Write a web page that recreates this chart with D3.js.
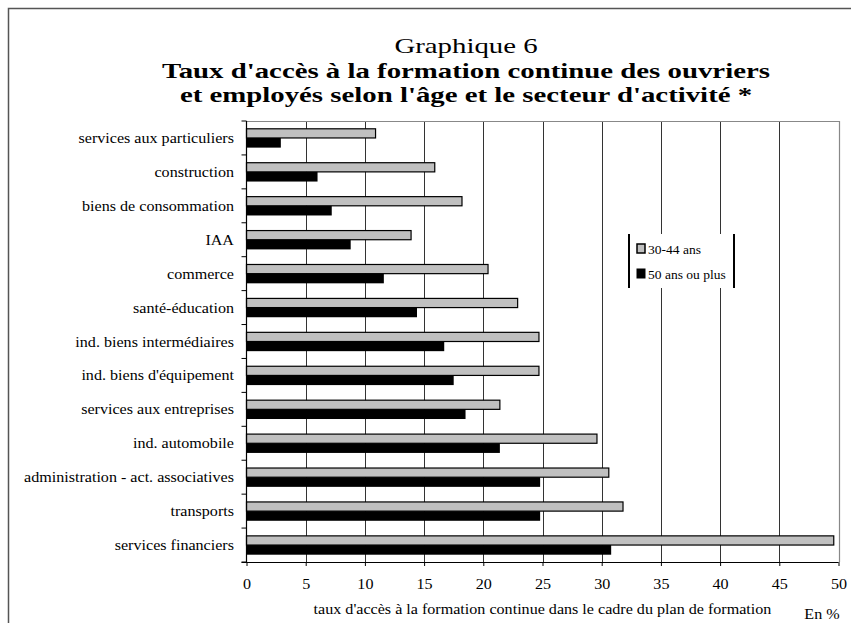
<!DOCTYPE html>
<html>
<head>
<meta charset="utf-8">
<script src="https://cdn.jsdelivr.net/npm/d3@7"></script>
<style>
  html, body { margin: 0; padding: 0; background: #fff; }
  svg { display: block; font-family: "Liberation Serif", "Times New Roman", serif; }
</style>
</head>
<body>
<svg id="chart" width="851" height="623"></svg>
<script>
// Secteurs d'activité, du haut vers le bas
const categories = [
  "services aux particuliers",
  "construction",
  "biens de consommation",
  "IAA",
  "commerce",
  "santé-éducation",
  "ind. biens intermédiaires",
  "ind. biens d'équipement",
  "services aux entreprises",
  "ind. automobile",
  "administration - act. associatives",
  "transports",
  "services financiers"
];
const seriesNames = ["30-44 ans", "50 ans ou plus"];
const values3044 = [10.9, 15.9, 18.2, 13.9, 20.4, 22.9, 24.7, 24.7, 21.4, 29.6, 30.6, 31.8, 49.6];
const values50plus = [2.9, 6.0, 7.2, 8.8, 11.6, 14.4, 16.7, 17.5, 18.5, 21.4, 24.8, 24.8, 30.8];
const xTicks = [0, 5, 10, 15, 20, 25, 30, 35, 40, 45, 50];
const titleLines = [
  "Graphique 6",
  "Taux d'accès à la formation continue des ouvriers",
  "et employés selon l'âge et le secteur d'activité *"
];
const xAxisTitle = "taux d'accès à la formation continue dans le cadre du plan de formation";
const unitLabel = "En %";

const seriesColors = ["#c0c0c0", "#000000"];
const stretch = 1.15; // largeur de la police légèrement élargie

const rows = categories.map((c, i) => ({ cat: c, vals: [values3044[i], values50plus[i]] }));

const svg = d3.select("#chart");

// Texte élargi horizontalement autour de son point d'ancrage
function label(parent, x, y, txt, size, anchor, weight, sx) {
  const g = parent.append("g").attr("transform", `translate(${x},${y}) scale(${sx || stretch},1)`);
  g.append("text")
    .attr("text-anchor", anchor || "start")
    .attr("font-size", size)
    .attr("font-weight", weight || "normal")
    .text(txt);
  return g;
}

// Cadre extérieur
svg.append("rect")
  .attr("x", 8.5).attr("y", 8.5)
  .attr("width", 880).attr("height", 660)
  .attr("fill", "none").attr("stroke", "#555").attr("stroke-width", 1.5);

// Titre
const titleX = 466;
label(svg, titleX, 53, titleLines[0], 22, "middle", "normal", 1.31);
label(svg, titleX, 77.5, titleLines[1], 22, "middle", "bold", 1.31);
label(svg, titleX, 102, titleLines[2], 22, "middle", "bold", 1.31);

// Zone de tracé
const plot = { left: 246.5, right: 838.5, top: 121, bottom: 562 };

const x = d3.scaleLinear().domain([0, 50]).range([plot.left, plot.right]);
const y = d3.scaleBand().domain(categories).range([plot.top, plot.bottom])
  .paddingInner(0.43).paddingOuter(0.215);
const ySub = d3.scaleBand().domain([0, 1]).range([0, y.bandwidth()]);

// Quadrillage vertical
svg.append("g").selectAll("line")
  .data(xTicks.filter(t => t > 0 && t < 50))
  .join("line")
  .attr("x1", d => Math.round(x(d)) + 0.5).attr("x2", d => Math.round(x(d)) + 0.5)
  .attr("y1", plot.top).attr("y2", plot.bottom)
  .attr("stroke", "#333").attr("stroke-width", 1);

// Bordure de la zone de tracé (haut et droite)
svg.append("path")
  .attr("d", `M${plot.left},${plot.top + 0.5}H${Math.round(x(50)) + 0.5}V${plot.bottom}`)
  .attr("fill", "none").attr("stroke", "#888").attr("stroke-width", 1.2);

// Barres
const groups = svg.append("g").selectAll("g")
  .data(rows).join("g")
  .attr("transform", d => `translate(0,${y(d.cat)})`);

groups.selectAll("rect")
  .data(d => d.vals.map((v, i) => ({ v, i })))
  .join("rect")
  .attr("x", x(0))
  .attr("y", d => ySub(d.i) + (d.i === 0 ? 0.5 : 0))
  .attr("width", d => x(d.v) - x(0))
  .attr("height", d => ySub.bandwidth() - (d.i === 0 ? 0.5 : 0))
  .attr("fill", d => seriesColors[d.i])
  .attr("stroke", d => d.i === 0 ? "#000" : "none")
  .attr("stroke-width", 1.2);

// Axe des catégories (graduations aux limites des catégories)
const yAxisG = svg.append("g");
yAxisG.append("line")
  .attr("x1", plot.left).attr("x2", plot.left)
  .attr("y1", plot.top).attr("y2", plot.bottom)
  .attr("stroke", "#000").attr("stroke-width", 1.2);
const boundaries = d3.range(categories.length + 1).map(i => plot.top + i * y.step());
yAxisG.selectAll("line.tick")
  .data(boundaries).join("line").attr("class", "tick")
  .attr("x1", plot.left - 5).attr("x2", plot.left)
  .attr("y1", d => d).attr("y2", d => d)
  .attr("stroke", "#000").attr("stroke-width", 1);
categories.forEach(c => {
  label(yAxisG, 234, y(c) + y.bandwidth() / 2 + 5, c, 14, "end");
});

// Axe des valeurs
const xAxis = d3.axisBottom(x).tickValues(xTicks).tickSize(4).tickPadding(13).tickFormat(d3.format("d"));
const xAxisG = svg.append("g")
  .attr("transform", `translate(0,${plot.bottom})`)
  .call(xAxis);
xAxisG.select(".domain").attr("stroke", "#000").attr("stroke-width", 1.2)
  .attr("d", `M${plot.left - 5},0.5H${plot.right}`);
xAxisG.selectAll(".tick line").attr("stroke", "#000");
xAxisG.selectAll(".tick text")
  .attr("font-family", "'Liberation Serif', 'Times New Roman', serif")
  .attr("font-size", 14).attr("fill", "#000")
  .attr("transform", `scale(${stretch},1)`);

// Titres d'axe
label(svg, (plot.left + plot.right) / 2, 614, xAxisTitle, 14, "middle");
label(svg, 822, 619, unitLabel, 14, "middle");

// Légende
const leg = svg.append("g").attr("transform", "translate(629,234)");
leg.append("rect").attr("x", 0).attr("y", 0).attr("width", 105).attr("height", 54)
  .attr("fill", "#fff");
leg.append("line").attr("x1", 0).attr("x2", 0).attr("y1", 0).attr("y2", 54)
  .attr("stroke", "#000").attr("stroke-width", 2);
leg.append("line").attr("x1", 105).attr("x2", 105).attr("y1", 0).attr("y2", 54)
  .attr("stroke", "#000").attr("stroke-width", 2);
seriesNames.forEach((name, i) => {
  const gy = i === 0 ? 10 : 35;
  leg.append("rect").attr("x", 8).attr("y", gy).attr("width", 8).attr("height", 9)
    .attr("fill", seriesColors[i]).attr("stroke", "#000").attr("stroke-width", i === 0 ? 1.5 : 1);
  label(leg, 19, gy + 10, name, 13, "start", "normal", 1.04);
});
</script>
</body>
</html>
